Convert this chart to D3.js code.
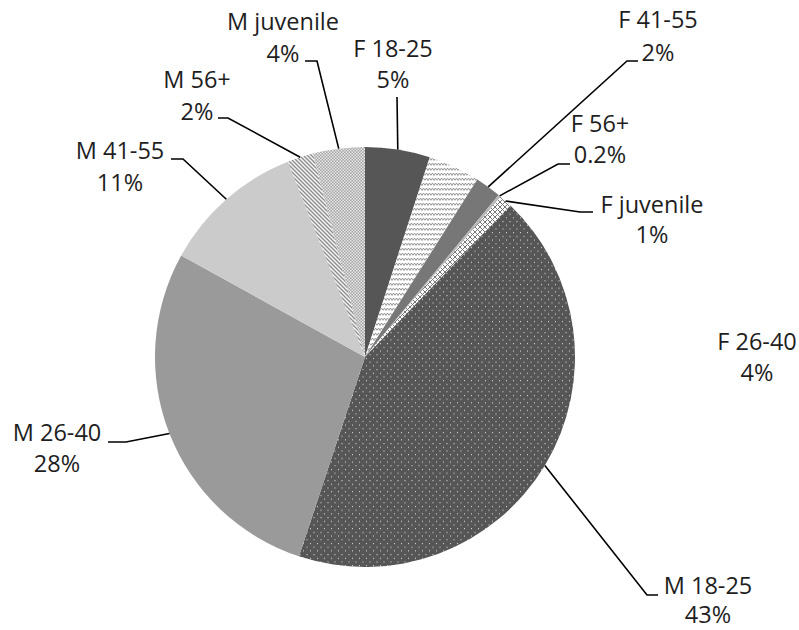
<!DOCTYPE html>
<html>
<head>
<meta charset="utf-8">
<script src="https://cdn.jsdelivr.net/npm/d3@7/dist/d3.min.js"></script>
<style>
  html, body { margin: 0; padding: 0; background: #fff; }
  svg { display: block; }
  text { font-family: "Open Sans", "Liberation Sans", sans-serif; fill: #1e1e1e; }
</style>
</head>
<body>
<svg id="chart" width="799" height="630"></svg>
<script>
// Share of cases by sex and age group
const categories = ["F 18-25", "F 26-40", "F 41-55", "F 56+", "F juvenile",
                    "M 18-25", "M 26-40", "M 41-55", "M 56+", "M juvenile"];
const values = [5, 4, 2, 0.2, 1, 43, 28, 11, 2, 4];
const valueLabels = ["5%", "4%", "2%", "0.2%", "1%", "43%", "28%", "11%", "2%", "4%"];

// Fill for each slice (solid colour or pattern id)
const fills = {
  "F 18-25": "#565656",
  "F 26-40": "url(#zigzag)",
  "F 41-55": "#777777",
  "F 56+": "#b8b8b8",
  "F juvenile": "url(#diamonds)",
  "M 18-25": "url(#dots)",
  "M 26-40": "#9a9a9a",
  "M 41-55": "#cbcbcb",
  "M 56+": "url(#hatch)",
  "M juvenile": "url(#checker)"
};

// Label layout: text centre x, first baseline y, line gap, leader elbow and end
const labelLayout = {
  "F 18-25":    { x: 393, y: 57,  gap: 31, elbow: [397, 97], end: null },
  "F 26-40":    { x: 757, y: 350, gap: 31, elbow: null, end: null },
  "F 41-55":    { x: 658, y: 28,  gap: 33, elbow: [627, 61], end: [638, 61] },
  "F 56+":      { x: 600, y: 132, gap: 31, elbow: [558, 164], end: [570, 164] },
  "F juvenile": { x: 652, y: 213, gap: 30, elbow: [580, 212], end: [593, 212] },
  "M 18-25":    { x: 708, y: 594, gap: 29, elbow: [647, 595], end: [658, 595] },
  "M 26-40":    { x: 57,  y: 441, gap: 31, elbow: [126, 442], end: [108, 442] },
  "M 41-55":    { x: 120, y: 159, gap: 32, elbow: [183, 159], end: [171, 159] },
  "M 56+":      { x: 197, y: 88,  gap: 32, elbow: [228, 118], end: [218, 118] },
  "M juvenile": { x: 283, y: 30,  gap: 32, elbow: [317, 61], end: [305, 61] }
};

const svg = d3.select("#chart");
const cx = 365, cy = 357, radius = 210;

// Pattern definitions
const defs = svg.append("defs");

const zig = defs.append("pattern").attr("id", "zigzag")
  .attr("patternUnits", "userSpaceOnUse").attr("width", 6).attr("height", 5);
zig.append("rect").attr("width", 6).attr("height", 5).attr("fill", "#fff");
zig.append("path").attr("d", "M0,3.5 L1.5,1 L3,3.5 L4.5,1 L6,3.5")
  .attr("fill", "none").attr("stroke", "#8a8a8a").attr("stroke-width", 0.9);

const dia = defs.append("pattern").attr("id", "diamonds")
  .attr("patternUnits", "userSpaceOnUse").attr("width", 5).attr("height", 5);
dia.append("rect").attr("width", 5).attr("height", 5).attr("fill", "#fff");
dia.append("path").attr("d", "M0,0 L5,5 M5,0 L0,5 M-1,4 L1,6 M4,-1 L6,1 M-1,1 L1,-1 M4,6 L6,4")
  .attr("stroke", "#777").attr("stroke-width", 1);

const dots = defs.append("pattern").attr("id", "dots")
  .attr("patternUnits", "userSpaceOnUse").attr("width", 7).attr("height", 7.4);
dots.append("rect").attr("width", 7).attr("height", 7.4).attr("fill", "#565656");
dots.append("rect").attr("x", 1).attr("y", 1).attr("width", 1).attr("height", 1).attr("fill", "#e4e4e4");
dots.append("rect").attr("x", 4.5).attr("y", 4.7).attr("width", 1).attr("height", 1).attr("fill", "#e4e4e4");

const hatch = defs.append("pattern").attr("id", "hatch")
  .attr("patternUnits", "userSpaceOnUse").attr("width", 4).attr("height", 4);
hatch.append("rect").attr("width", 4).attr("height", 4).attr("fill", "#f4f4f4");
hatch.append("path").attr("d", "M-1,-1 L5,5 M-1,3 L1,5 M3,-1 L5,1")
  .attr("stroke", "#8c8c8c").attr("stroke-width", 1.3);

const chk = defs.append("pattern").attr("id", "checker")
  .attr("patternUnits", "userSpaceOnUse").attr("width", 3).attr("height", 3);
chk.append("rect").attr("width", 3).attr("height", 3).attr("fill", "#a6a6a6");
chk.append("rect").attr("x", 0).attr("y", 0).attr("width", 1.5).attr("height", 1.5).attr("fill", "#e6e6e6");
chk.append("rect").attr("x", 1.5).attr("y", 1.5).attr("width", 1.5).attr("height", 1.5).attr("fill", "#e6e6e6");

// Pie layout, clockwise from twelve o'clock in data order
const data = categories.map((c, i) => ({ category: c, value: values[i], label: valueLabels[i] }));
const pie = d3.pie().value(d => d.value).sort(null);
const arcs = pie(data);

const arc = d3.arc().innerRadius(0).outerRadius(radius);
const edge = d3.arc().innerRadius(radius).outerRadius(radius);

const g = svg.append("g").attr("transform", `translate(${cx},${cy})`);

g.selectAll("path.slice")
  .data(arcs)
  .join("path")
  .attr("class", "slice")
  .attr("d", arc)
  .attr("fill", d => fills[d.data.category]);

// Leader lines from slice edge to labels
const leaders = svg.append("g");
arcs.forEach(d => {
  const L = labelLayout[d.data.category];
  if (!L.elbow) return;
  const [ex, ey] = edge.centroid(d);
  const pts = [[cx + ex, cy + ey], L.elbow];
  if (L.end) pts.push(L.end);
  leaders.append("path")
    .attr("d", d3.line()(pts))
    .attr("fill", "none")
    .attr("stroke", "#000")
    .attr("stroke-width", 1.6);
});

// Category and percentage labels
const labels = svg.append("g");
arcs.forEach(d => {
  const L = labelLayout[d.data.category];
  const t = labels.append("text")
    .attr("text-anchor", "middle")
    .attr("font-size", 23.5);
  t.append("tspan").attr("x", L.x).attr("y", L.y).text(d.data.category);
  t.append("tspan").attr("x", L.x).attr("y", L.y + L.gap).text(d.data.label);
});
</script>
</body>
</html>
